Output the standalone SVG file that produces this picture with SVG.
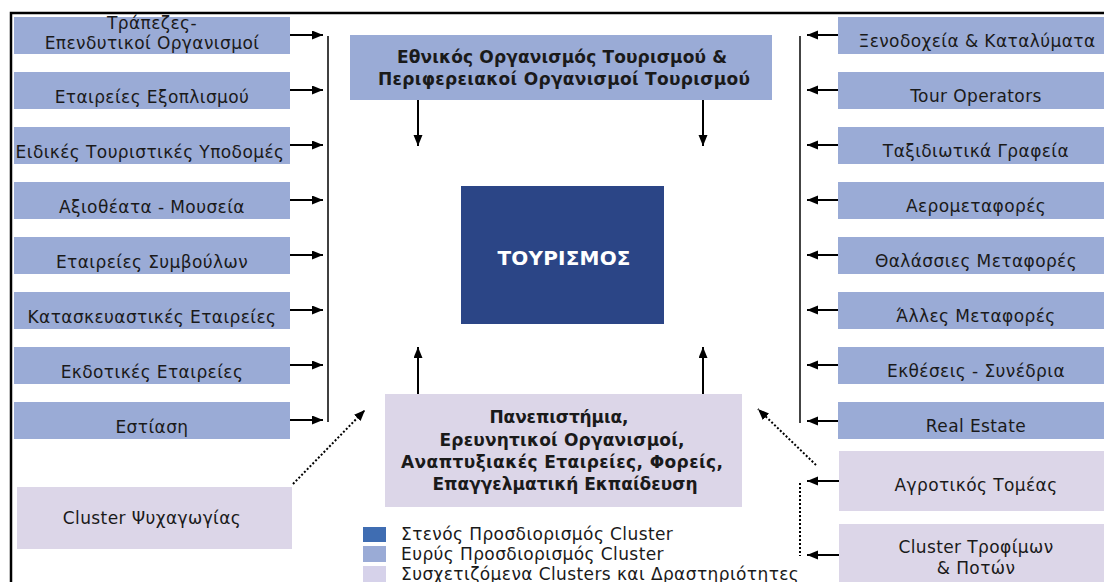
<svg xmlns="http://www.w3.org/2000/svg" width="1104" height="582" viewBox="0 0 1104 582">
<defs>
<marker id="ah" markerUnits="userSpaceOnUse" markerWidth="12" markerHeight="10" refX="11" refY="4.5" orient="auto">
<path d="M0,0 L11,4.5 L0,9 z" fill="#000"/>
</marker>
<style>
.mid{fill:#9aabd6}
.dark{fill:#2b4586}
.lav{fill:#dcd6e8}
text{font-family:"DejaVu Sans","Noto Sans",sans-serif;font-size:17px;letter-spacing:0.4px;fill:#1a1a1a;text-anchor:middle}
.b{font-weight:bold;font-size:17px;letter-spacing:0}
.w{fill:#fff;font-weight:bold;font-size:20px;letter-spacing:0}
.lg{text-anchor:start}
.c{stroke:#000;stroke-width:2;fill:none}
.d{stroke:#000;stroke-width:2;fill:none;stroke-dasharray:2,2}
</style>
</defs>
<rect width="1104" height="582" fill="#fff"/>
<path d="M11,582 V13 H1104" stroke="#000" stroke-width="2.5" fill="none"/>

<g id="left-nodes">
<g id="n-trapezes"><rect class="mid" x="14" y="17" width="276" height="37"/><text x="152" y="29">Τράπεζες-</text><text x="152" y="49">Επενδυτικοί Οργανισμοί</text></g>
<g id="n-exoplismou"><rect class="mid" x="14" y="72" width="276" height="37"/><text x="152" y="103">Εταιρείες Εξοπλισμού</text></g>
<g id="n-ypodomes"><rect class="mid" x="14" y="127" width="276" height="37"/><text x="150" y="158">Ειδικές Τουριστικές Υποδομές</text></g>
<g id="n-mouseia"><rect class="mid" x="14" y="182" width="276" height="37"/><text x="152" y="213">Αξιοθέατα - Μουσεία</text></g>
<g id="n-symvoulon"><rect class="mid" x="14" y="237" width="276" height="37"/><text x="152" y="268">Εταιρείες Συμβούλων</text></g>
<g id="n-kataskeuastikes"><rect class="mid" x="14" y="292" width="276" height="37"/><text x="152" y="323">Κατασκευαστικές Εταιρείες</text></g>
<g id="n-ekdotikes"><rect class="mid" x="14" y="347" width="276" height="37"/><text x="152" y="378">Εκδοτικές Εταιρείες</text></g>
<g id="n-estiasi"><rect class="mid" x="14" y="402" width="276" height="37"/><text x="152" y="433">Εστίαση</text></g>
<g id="n-psychagogias"><rect class="lav" x="17" y="487" width="275" height="62"/><text x="152" y="524">Cluster Ψυχαγωγίας</text></g>
</g>

<g id="right-nodes">
<g id="n-xenodocheia"><rect class="mid" x="838" y="17" width="266" height="37"/><text x="977" y="47">Ξενοδοχεία &amp; Καταλύματα</text></g>
<g id="n-tour"><rect class="mid" x="838" y="72" width="266" height="37"/><text x="976" y="102">Tour Operators</text></g>
<g id="n-grafeia"><rect class="mid" x="838" y="127" width="266" height="37"/><text x="976" y="157">Ταξιδιωτικά Γραφεία</text></g>
<g id="n-aero"><rect class="mid" x="838" y="182" width="266" height="37"/><text x="976" y="212">Αερομεταφορές</text></g>
<g id="n-thalassies"><rect class="mid" x="838" y="237" width="266" height="37"/><text x="976" y="267">Θαλάσσιες Μεταφορές</text></g>
<g id="n-alles"><rect class="mid" x="838" y="292" width="266" height="37"/><text x="976" y="322">Άλλες Μεταφορές</text></g>
<g id="n-ektheseis"><rect class="mid" x="838" y="347" width="266" height="37"/><text x="976" y="377">Εκθέσεις - Συνέδρια</text></g>
<g id="n-realestate"><rect class="mid" x="838" y="402" width="266" height="37"/><text x="976" y="432">Real Estate</text></g>
<g id="n-agrotikos"><rect class="lav" x="839" y="451" width="265" height="60"/><text x="976" y="491">Αγροτικός Τομέας</text></g>
<g id="n-trofimon"><rect class="lav" x="839" y="524" width="265" height="62"/><text x="976" y="553">Cluster Τροφίμων</text><text x="976" y="574">&amp; Ποτών</text></g>
</g>

<g id="n-eot"><rect class="mid" x="350" y="35" width="422" height="65"/><text class="b" x="562" y="63" textLength="330" lengthAdjust="spacing">Εθνικός Οργανισμός Τουρισμού &amp;</text><text class="b" x="564" y="85" textLength="372" lengthAdjust="spacing">Περιφερειακοί Οργανισμοί Τουρισμού</text></g>
<g id="n-tourismos"><rect class="dark" x="461" y="186" width="203" height="138"/><text class="w" x="564" y="265" textLength="133" lengthAdjust="spacing">ΤΟΥΡΙΣΜΟΣ</text></g>
<g id="n-panepistimia"><rect class="lav" x="385" y="394" width="357" height="113"/><text class="b" x="559" y="423" textLength="139" lengthAdjust="spacing">Πανεπιστήμια,</text><text class="b" x="562" y="446" textLength="245" lengthAdjust="spacing">Ερευνητικοί Οργανισμοί,</text><text class="b" x="562" y="468" textLength="322" lengthAdjust="spacing">Αναπτυξιακές Εταιρείες, Φορείς,</text><text class="b" x="565" y="490" textLength="265" lengthAdjust="spacing">Επαγγελματική Εκπαίδευση</text></g>

<g id="legend">
<rect x="363" y="527" width="23" height="15" fill="#3f6db2"/>
<rect x="363" y="546" width="23" height="16" fill="#9aabd6"/>
<rect x="363" y="566" width="23" height="16" fill="#d6d2ea"/>
<text class="lg" x="401" y="540">Στενός Προσδιορισμός Cluster</text>
<text class="lg" x="401" y="560">Ευρύς Προσδιορισμός Cluster</text>
<text class="lg" x="401" y="580">Συσχετιζόμενα Clusters και Δραστηριότητες</text>
</g>

<g id="connectors">
<line x1="328" y1="36" x2="328" y2="422" stroke="#000" stroke-width="1.5"/>
<line x1="800" y1="36" x2="800" y2="423" stroke="#444" stroke-width="2"/>
<g marker-end="url(#ah)">
<line class="c" x1="290" y1="35" x2="323" y2="35"/>
<line class="c" x1="290" y1="90" x2="323" y2="90"/>
<line class="c" x1="290" y1="145" x2="323" y2="145"/>
<line class="c" x1="290" y1="200" x2="323" y2="200"/>
<line class="c" x1="290" y1="255" x2="323" y2="255"/>
<line class="c" x1="290" y1="310" x2="323" y2="310"/>
<line class="c" x1="290" y1="365" x2="323" y2="365"/>
<line class="c" x1="290" y1="420" x2="323" y2="420"/>
<line class="c" x1="838" y1="35" x2="807" y2="35"/>
<line class="c" x1="838" y1="90" x2="807" y2="90"/>
<line class="c" x1="838" y1="145" x2="807" y2="145"/>
<line class="c" x1="838" y1="200" x2="807" y2="200"/>
<line class="c" x1="838" y1="255" x2="807" y2="255"/>
<line class="c" x1="838" y1="310" x2="807" y2="310"/>
<line class="c" x1="838" y1="365" x2="807" y2="365"/>
<line class="c" x1="838" y1="421" x2="807" y2="421"/>
<line class="c" x1="839" y1="481" x2="807" y2="481"/>
<line class="c" x1="839" y1="555" x2="807" y2="555"/>
<line class="c" x1="418" y1="100" x2="418" y2="146"/>
<line class="c" x1="703" y1="100" x2="703" y2="146"/>
<line class="c" x1="418" y1="394" x2="418" y2="347"/>
<line class="c" x1="703" y1="394" x2="703" y2="347"/>
<line class="d" x1="293" y1="484" x2="365" y2="410"/>
<line class="d" x1="816" y1="465" x2="758" y2="409"/>
</g>
<line class="d" x1="800" y1="483" x2="800" y2="556"/>
</g>
</svg>
